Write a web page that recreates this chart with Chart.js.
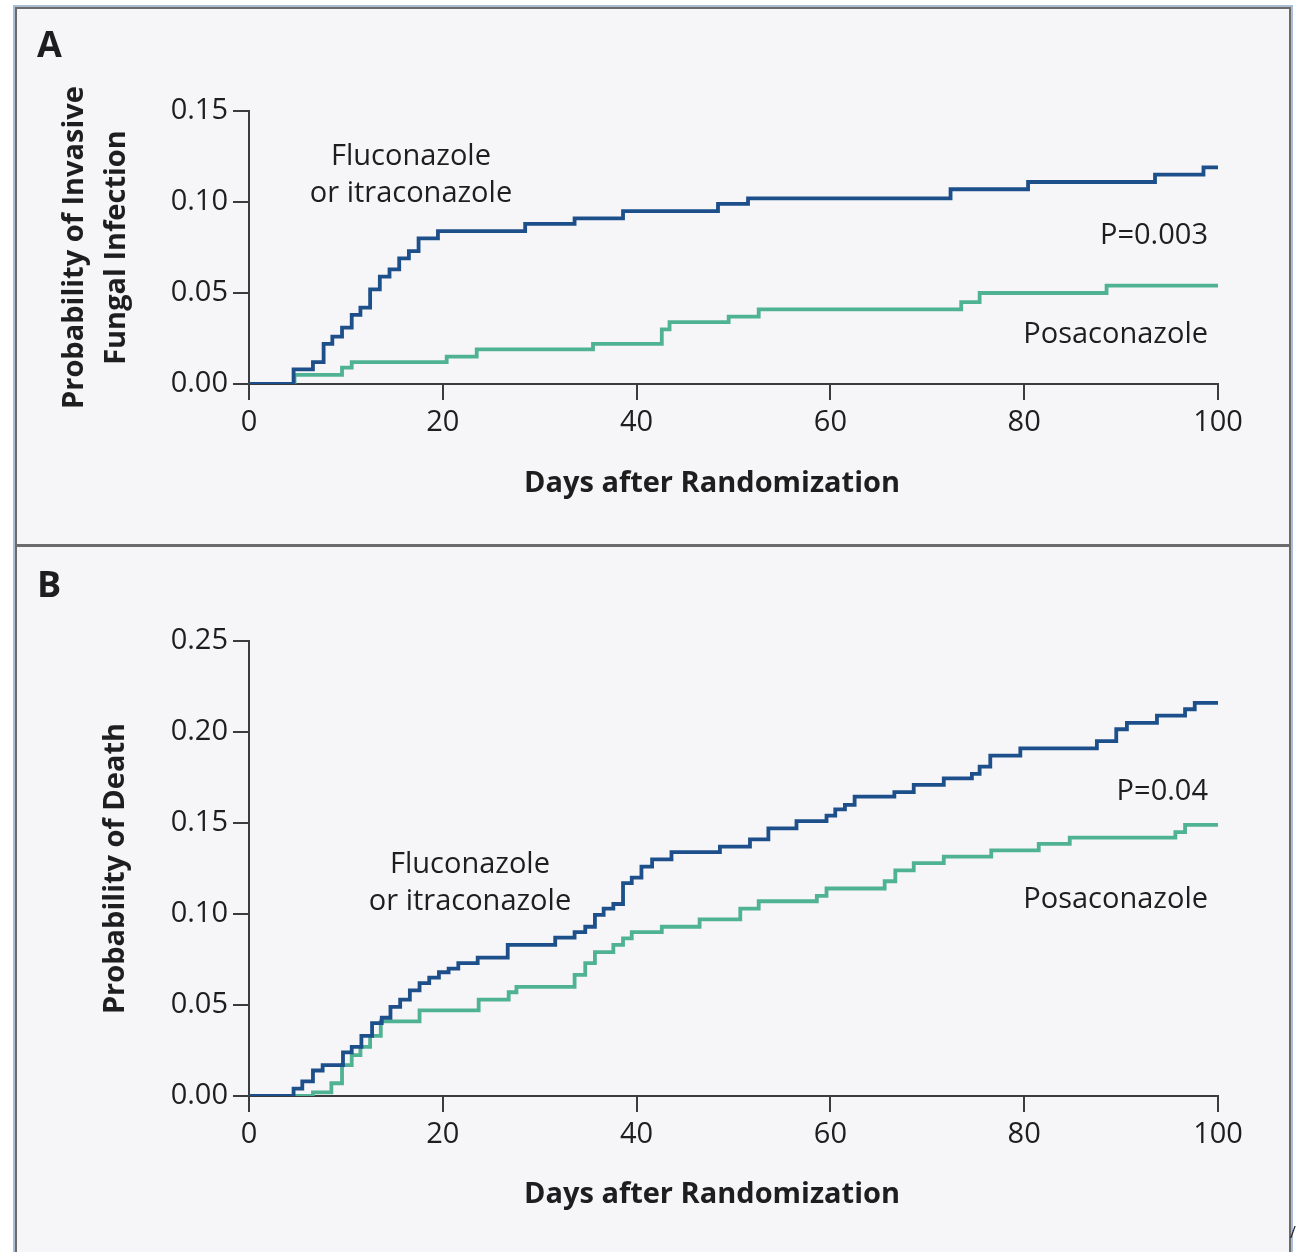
<!DOCTYPE html>
<html lang="en">
<head>
<meta charset="UTF-8">
<title>Invasive Fungal Infection and Death</title>
<script src="https://cdn.jsdelivr.net/npm/chart.js"></script>
<style>
  body { margin: 0; background: #fff; font-family: "Open Sans", sans-serif; color: #1e1e1e; }
  #page { position: relative; width: 1301px; height: 1252px; overflow: hidden; }
  .frame-outer { position: absolute; left: 13px; top: 5px; width: 1280px; height: 1300px;
                 border: 2px solid #a9bdd6; box-sizing: border-box; }
  .frame-inner { position: absolute; left: 15px; top: 7px; width: 1276px; height: 1300px;
                 border: 2px solid #6b6b6b; box-sizing: border-box; background: #f6f6f8; }
  .divider { position: absolute; left: 15px; top: 544px; width: 1276px; height: 3px; background: #6b6b6b; }
  canvas { position: absolute; left: 0; }
  .lbl { position: absolute; white-space: nowrap; }
</style>
</head>
<body>
<div id="page">
  <div class="frame-outer"></div>
  <div class="frame-inner"></div>
  <div class="divider"></div>
  <canvas id="chartA" width="1301" height="546" style="top:0"></canvas>
  <canvas id="chartB" width="1301" height="706" style="top:546px"></canvas>
</div>

<script>
// ---- data ----
const xTicks = [0, 20, 40, 60, 80, 100];
const aYTicks = [0, 0.05, 0.10, 0.15];
const bYTicks = [0, 0.05, 0.10, 0.15, 0.20, 0.25];

// Panel A: probability of invasive fungal infection
const aFlucDays = [0, 4.6, 6.6, 7.7, 8.6, 9.6, 10.6, 11.5, 12.5, 13.5, 14.5, 15.5, 16.5, 17.5, 19.5,
                   28.5, 33.6, 38.6, 48.4, 51.5, 72.4, 80.4, 93.5, 98.5, 100];
const aFlucProb = [0, 0.008, 0.012, 0.022, 0.026, 0.031, 0.038, 0.042, 0.052, 0.059, 0.063, 0.069, 0.073, 0.080, 0.084,
                   0.088, 0.091, 0.095, 0.099, 0.102, 0.107, 0.111, 0.115, 0.119, 0.119];
const aPosaDays = [0, 4.7, 9.6, 10.6, 20.4, 23.5, 35.5, 42.6, 43.4, 49.5, 52.6, 73.5, 75.4, 88.5, 100];
const aPosaProb = [0, 0.005, 0.009, 0.012, 0.015, 0.019, 0.022, 0.030, 0.034, 0.037, 0.041, 0.045, 0.050, 0.054, 0.054];

// Panel B: probability of death
const bFlucDays = [0, 4.6, 5.5, 6.6, 7.6, 9.7, 10.6, 11.6, 12.7, 13.7, 14.6, 15.6, 16.6, 17.6, 18.6, 19.6, 20.6, 21.6,
                   23.6, 26.7, 31.6, 33.6, 34.7, 35.7, 36.6, 37.6, 38.6, 39.5, 40.5, 41.6, 43.6, 48.6, 51.7, 53.6,
                   56.5, 59.6, 60.5, 61.5, 62.5, 66.6, 68.6, 71.7, 74.6, 75.4, 76.5, 79.6, 87.5, 89.5, 90.6, 93.7,
                   96.6, 97.6, 100];
const bFlucProb = [0, 0.004, 0.008, 0.014, 0.017, 0.024, 0.027, 0.033, 0.040, 0.043, 0.049, 0.053, 0.058, 0.062, 0.065,
                   0.068, 0.070, 0.073, 0.076, 0.083, 0.087, 0.090, 0.093, 0.0995, 0.103, 0.1055, 0.117, 0.120, 0.126,
                   0.130, 0.134, 0.137, 0.141, 0.147, 0.151, 0.154, 0.1575, 0.160, 0.1645, 0.167, 0.171, 0.1745,
                   0.177, 0.181, 0.187, 0.191, 0.195, 0.2015, 0.205, 0.209, 0.2125, 0.216, 0.216];
const bPosaDays = [0, 6.6, 8.5, 9.6, 10.6, 11.5, 12.5, 13.6, 17.6, 23.7, 26.8, 27.6, 33.6, 34.7, 35.7, 37.6, 38.6, 39.5,
                   42.6, 46.5, 50.7, 52.6, 58.6, 59.6, 65.6, 66.7, 68.6, 71.7, 76.6, 81.5, 84.7, 95.6, 96.6, 100];
const bPosaProb = [0, 0.002, 0.007, 0.017, 0.0225, 0.027, 0.033, 0.041, 0.047, 0.053, 0.057, 0.060, 0.0665, 0.073,
                   0.079, 0.083, 0.0866, 0.090, 0.093, 0.097, 0.103, 0.107, 0.110, 0.114, 0.118, 0.124, 0.128, 0.1315,
                   0.135, 0.1385, 0.142, 0.145, 0.149, 0.149];

const BLUE = '#1d4f8a';
const TEAL = '#4fb292';
const INK = '#1e1e1e';
const AXIS = '#3c3c3c';
const FONT = '"Open Sans", sans-serif';

function pts(days, probs) {
    return days.map((d, i) => ({ x: d, y: probs[i] }));
}

function kmChart(id, fluc, posa, yTicks, yTitle, pad, titlePadTop) {
    const axisStyle = {
        border: { display: true, color: AXIS, width: 2 },
        grid: { display: true, drawOnChartArea: false, drawTicks: true, tickLength: 16, color: AXIS, lineWidth: 2 }
    };
    return new Chart(document.getElementById(id), {
        type: 'line',
        data: {
            datasets: [
                { label: 'Fluconazole or itraconazole', data: fluc, borderColor: BLUE, borderWidth: 3.8,
                  stepped: 'before', pointRadius: 0, fill: false },
                { label: 'Posaconazole', data: posa, borderColor: TEAL, borderWidth: 3.8,
                  stepped: 'before', pointRadius: 0, fill: false }
            ]
        },
        options: {
            responsive: false,
            animation: false,
            events: [],
            layout: { padding: pad },
            plugins: { legend: { display: false }, tooltip: { enabled: false } },
            scales: {
                x: Object.assign({
                    type: 'linear', min: 0, max: 100,
                    afterBuildTicks: s => { s.ticks = xTicks.map(v => ({ value: v })); },
                    afterFit: s => { s.height = 60; },
                    ticks: { color: INK, padding: 5, font: { family: FONT, size: 29 }, callback: v => String(v) }
                }, axisStyle),
                y: Object.assign({
                    type: 'linear', min: 0, max: yTicks[yTicks.length - 1],
                    afterBuildTicks: s => { s.ticks = yTicks.map(v => ({ value: v })); },
                    afterFit: s => { s.width = 249; },
                    ticks: { color: INK, padding: 5, font: { family: FONT, size: 29 }, callback: v => v.toFixed(2) },
                    title: { display: true, text: yTitle, color: INK, padding: { top: titlePadTop, bottom: 0 },
                             font: { family: FONT, size: 29, weight: 'bold', lineHeight: 1.45 } }
                }, axisStyle)
            }
        }
    });
}

kmChart('chartA', pts(aFlucDays, aFlucProb), pts(aPosaDays, aPosaProb), aYTicks,
        ['Probability of Invasive', 'Fungal Infection'], { left: 0, top: 111, right: 83, bottom: 102 }, 54);
kmChart('chartB', pts(bFlucDays, bFlucProb), pts(bPosaDays, bPosaProb), bYTicks,
        'Probability of Death', { left: 0, top: 95, right: 83, bottom: 96 }, 95);

// ---- text placed on the figure (x, baseline y in page pixels) ----
const labels = [
    ['A', 37, 58, 'left', 36, true],
    ['Fluconazole', 411, 165, 'center', 29, false],
    ['or itraconazole', 411, 202, 'center', 29, false],
    ['P=0.003', 1208, 244, 'right', 29, false],
    ['Posaconazole', 1208, 343, 'right', 29, false],
    ['Days after Randomization', 712, 492, 'center', 29, true],
    ['B', 37, 598, 'left', 36, true],
    ['Fluconazole', 470, 873, 'center', 29, false],
    ['or itraconazole', 470, 910, 'center', 29, false],
    ['P=0.04', 1208, 800, 'right', 29, false],
    ['Posaconazole', 1208, 908, 'right', 29, false],
    ['Days after Randomization', 712, 1203, 'center', 29, true],
    ['/', 1290, 1238, 'left', 16, false]
];
const page = document.getElementById('page');
labels.forEach(([text, x, base, align, size, bold]) => {
    const el = document.createElement('div');
    el.className = 'lbl';
    el.textContent = text;
    el.style.fontSize = size + 'px';
    el.style.lineHeight = size + 'px';
    el.style.fontWeight = bold ? '700' : '400';
    el.style.left = x + 'px';
    el.style.top = (base - size * 0.888) + 'px';
    if (align === 'center') el.style.transform = 'translateX(-50%)';
    if (align === 'right') el.style.transform = 'translateX(-100%)';
    page.appendChild(el);
});
</script>
</body>
</html>
